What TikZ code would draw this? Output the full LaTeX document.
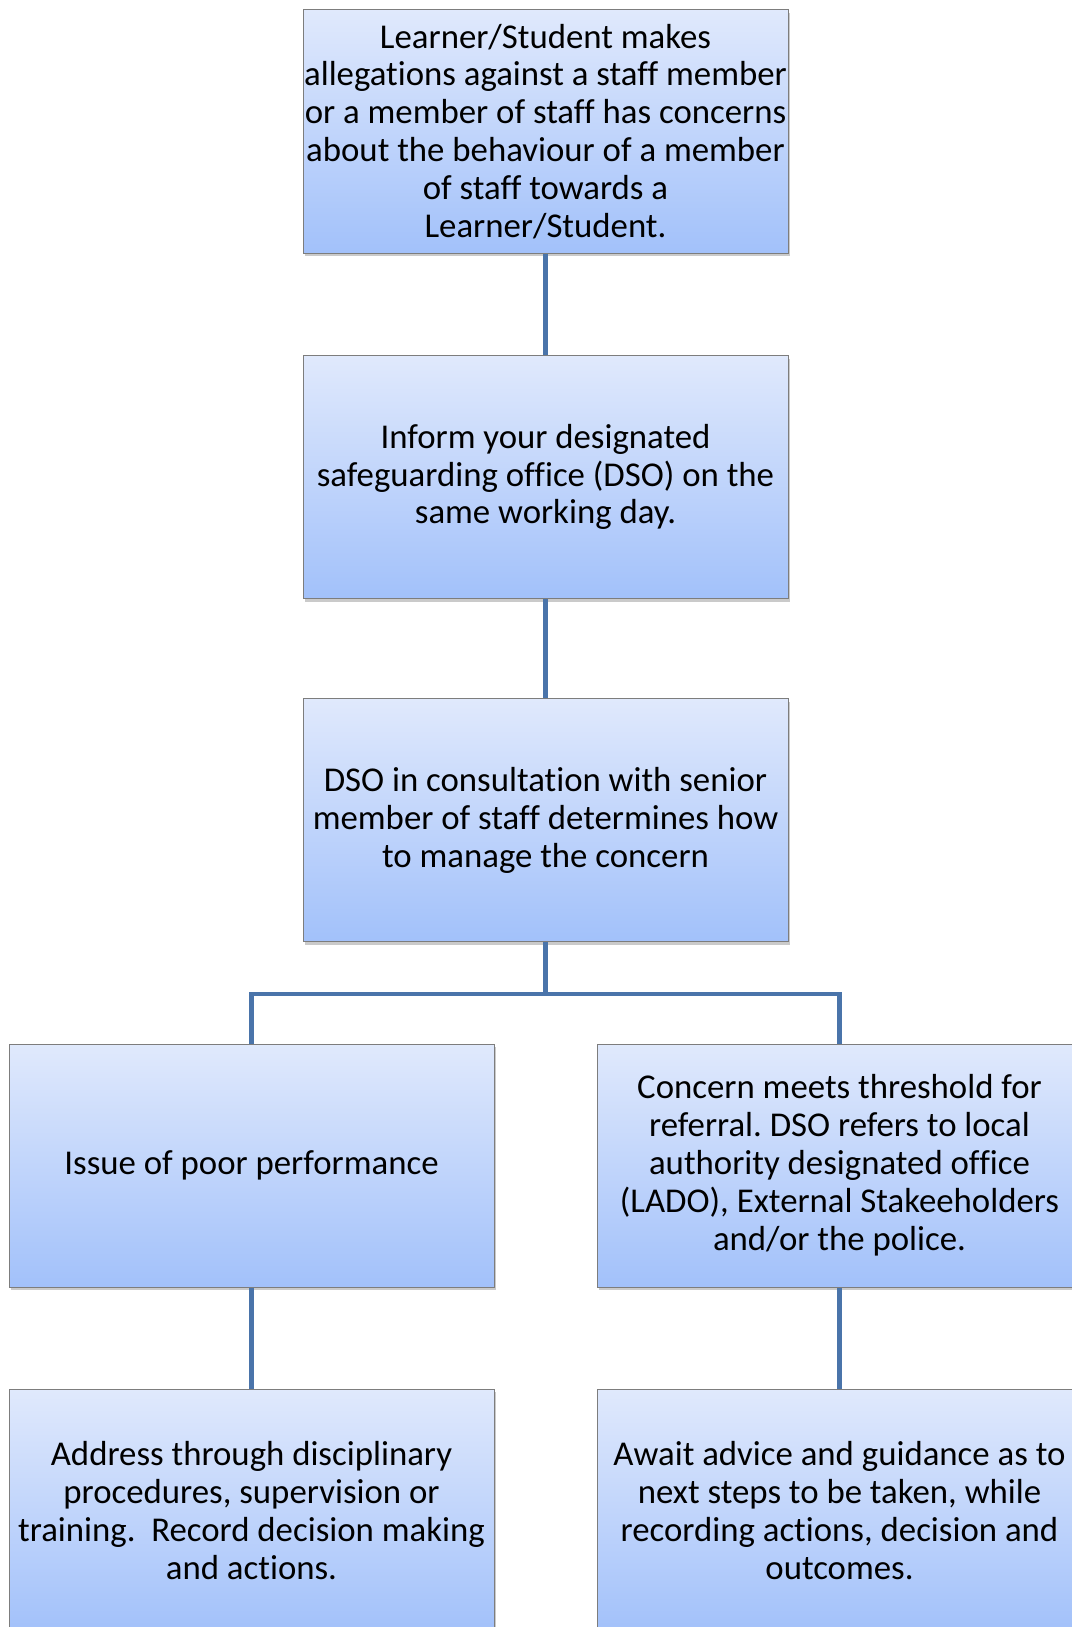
\documentclass[tikz,border=0pt]{standalone}
\usepackage{fontspec}
\setmainfont{Carlito}[Ligatures=NoCommon]
\usetikzlibrary{shadows}
\definecolor{boxtop}{RGB}{224,233,252}
\definecolor{boxbot}{RGB}{162,193,250}
\definecolor{boxline}{RGB}{125,125,125}
\definecolor{conn}{RGB}{74,116,170}
\frenchspacing
\begin{document}
\begin{tikzpicture}[x=1pt,y=-1pt,
  flowbox/.style={draw=boxline, line width=1pt, top color=boxtop, bottom color=boxbot,
    minimum width=485pt, minimum height=243pt, align=center,
    inner sep=0pt, font=\fontsize{34.8}{37.9}\selectfont,
    drop shadow={shadow xshift=2pt, shadow yshift=-3pt, opacity=0.35, fill=black!60}},
  link/.style={draw=conn, line width=4.5pt}]
\useasboundingbox (0,0) rectangle (1071,1627);
\node[flowbox] (b1) at (545.5,131.5) {Learner/Student makes\\allegations against a staff member\\or a member of staff has concerns\\about the behaviour of a member\\of staff towards a\\Learner/Student.};
\node[flowbox] (b2) at (545.5,477) {Inform your designated\\safeguarding office (DSO) on the\\same working day.};
\node[flowbox] (b3) at (545.5,820) {DSO in consultation with senior\\member of staff determines how\\to manage the concern};
\node[flowbox] (b4) at (251.5,1165.5) {Issue of poor performance};
\node[flowbox] (b5) at (839.5,1165.5) {Concern meets threshold for\\referral. DSO refers to local\\authority designated office\\(LADO), External Stakeeholders\\and/or the police.};
\node[flowbox] (b6) at (251.5,1510.5) {Address through disciplinary\\procedures, supervision or\\training.\ \ Record decision making\\and actions.};
\node[flowbox] (b7) at (839.5,1510.5) {Await advice and guidance as to\\next steps to be taken, while\\recording actions, decision and\\outcomes.};
\coordinate (j) at (545.5,994);
\draw[link] (b1.south) -- (b2.north);
\draw[link] (b2.south) -- (b3.north);
\draw[link] (b3.south) -- (j);
\draw[link] (b4.north) |- (j) -| (b5.north);
\draw[link] (b4.south) -- (b6.north);
\draw[link] (b5.south) -- (b7.north);
\end{tikzpicture}
\end{document}
